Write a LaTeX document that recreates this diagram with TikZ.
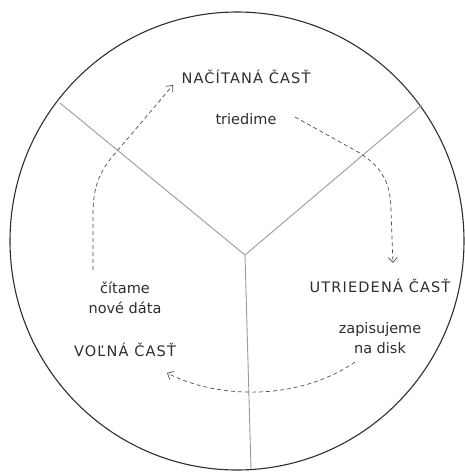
\documentclass[tikz,border=0pt]{standalone}
\usepackage{fontspec}
\setmainfont{DejaVu Sans}
\usetikzlibrary{arrows.meta}
\definecolor{ink}{HTML}{2E2E2E}
\definecolor{spoke}{HTML}{9A9A9A}
\begin{document}
\begin{tikzpicture}[x=1pt,y=-1pt,
  lbl/.style={font=\fontsize{14.5}{20}\selectfont, text=ink, inner sep=1pt, align=center},
  capslbl/.style={lbl, font=\fontsize{14.5}{20}\selectfont\addfontfeature{LetterSpace=8}},
  flow/.style={draw=ink!85, dashed, line width=0.7pt, dash pattern=on 4pt off 3pt, -{Straight Barb[length=5pt,width=9pt]}},
  spk/.style={draw=spoke, line width=0.9pt},
  rim/.style={draw=ink, line width=1.1pt}]
\useasboundingbox (0,0) rectangle (465,472);
% circle
\draw[rim] (237,241) ellipse [x radius=227, y radius=229];
% spokes
\coordinate (O) at (245,255);
\coordinate (pl) at (60,103);
\coordinate (pr) at (422,105);
\coordinate (pb) at (251,469);
\draw[spk] (O) -- (pl);
\draw[spk] (O) -- (pr);
\draw[spk] (O) -- (pb);
% labels
\node[capslbl] (nac) at (246,77) {NAČÍTANÁ ČASŤ};
\node[lbl] (tri) at (246,119) {triedime};
\node[capslbl] (utr) at (380,286) {UTRIEDENÁ ČASŤ};
\node[lbl] (zap) at (380,338) {zapisujeme\\na disk};
\node[lbl] (cit) at (125,298) {čítame\\nové dáta};
\node[capslbl] (vol) at (125,350) {VOĽNÁ ČASŤ};
% arrow ends
\coordinate (a1s) at (295,117);
\coordinate (a1e) at (393,263);
\coordinate (a2s) at (355,362);
\coordinate (a2e) at (167,373);
\coordinate (a3s) at (93,270);
\coordinate (a3e) at (173,85);
\draw[flow] (a1s) -- (358,152) .. controls (384,168) and (391,185) .. (391,212) -- (a1e);
\draw[flow] (a2s) .. controls (300,400) and (220,400) .. (a2e);
\draw[flow] (a3s) -- (93,215) .. controls (93,185) and (100,170) .. (118,150) -- (a3e);
\end{tikzpicture}
\end{document}
